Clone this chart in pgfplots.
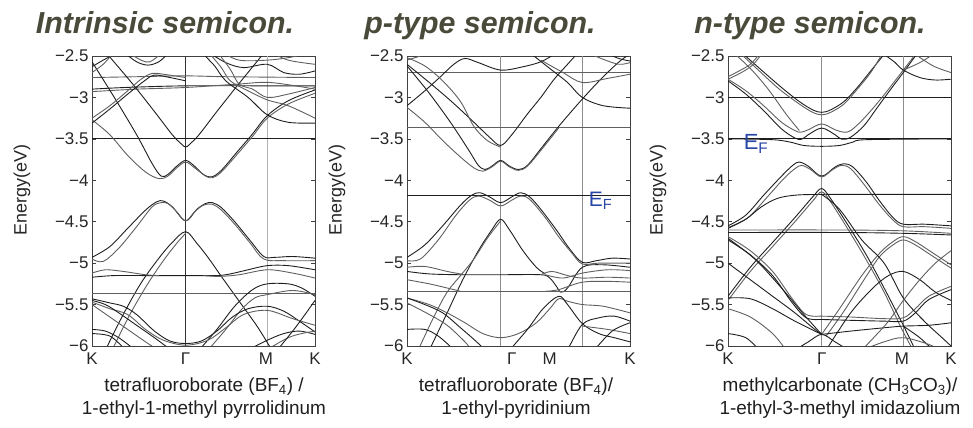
\documentclass[border=0pt]{standalone}
\usepackage{fontspec}
\setmainfont{Liberation Sans}
\usepackage{pgfplots}
\pgfplotsset{compat=1.18}
\definecolor{bd}{RGB}{30,30,30}
\definecolor{bg}{RGB}{95,95,95}
\definecolor{titlecol}{RGB}{74,74,58}
\definecolor{efblue}{RGB}{40,70,165}
\pgfplotsset{
 D/.style={no markers, smooth, tension=0.55, line width=0.9bp, draw=bd},
 G/.style={no markers, smooth, tension=0.55, line width=0.9bp, draw=bg},
 panel/.style={
  scale only axis, width=223bp, height=290bp, anchor=south west,
  xmin=0, xmax=100, ymin=-6, ymax=-2.5,
  axis line style={draw=black!75, line width=0.7bp},
  ytick={-6,-5.5,-5,-4.5,-4,-3.5,-3,-2.5},
  yticklabels={−6,−5.5,−5,−4.5,−4,−3.5,−3,−2.5},
  xticklabels={K,Γ,M,K},
  tick align=inside, major tick length=4bp, ytick pos=both, yticklabel pos=left,
  ytick style={draw=black!75, line width=0.7bp},
  xtick style={draw=none},
  tick label style={font=\fontsize{17}{17}\selectfont, text=black!85},
  xticklabel style={yshift=-3bp},
  ylabel={Energy(eV)},
  ylabel style={at={(axis description cs:-0.314,0.538)}, anchor=center, font=\fontsize{18}{18}\selectfont, text=black!85},
 }
}
\begin{document}
\begin{tikzpicture}
\useasboundingbox (0,0) rectangle (973bp,428bp);
% ---------------- Panel 1 ----------------
\begin{axis}[panel, at={(92bp,82bp)}, xtick={0,42,78,100}]
\addplot[line width=0.6bp, draw=black!80] coordinates {(42,-6)(42,-2.5)};
\addplot[line width=1.2bp, draw=black!30] coordinates {(78.6,-6)(78.6,-2.5)};
\addplot[D] coordinates {(0,-3.5)(100,-3.5)};
\addplot[G] coordinates {(0,-2.76)(20,-2.75)(42,-2.74)(60,-2.75)(100,-2.76)};
\addplot[D] coordinates {(0,-2.9)(15,-2.88)(42,-2.86)(78,-2.86)(100,-2.86)};
\addplot[G] coordinates {(0,-2.93)(20,-2.9)(42,-2.88)(65,-2.84)(80,-2.82)(100,-2.9)};
\addplot[D] coordinates {(0,-2.57)(10,-3.0)(20,-3.45)(27,-3.8)(31,-3.95)(34,-3.93)(38,-3.83)(42,-3.76)(46,-3.83)(50,-3.93)(53.6,-3.96)(58,-3.88)(65,-3.66)(72,-3.44)(78.6,-3.22)(88,-3.04)(100,-2.91)};
\addplot[G] coordinates {(0,-3.27)(8,-3.45)(16,-3.7)(24,-3.9)(30,-3.98)(34,-3.95)(38,-3.85)(42,-3.78)(46,-3.85)(51,-3.95)(54,-3.97)(58,-3.9)(65,-3.69)(72,-3.47)(78.6,-3.25)(88,-3.08)(100,-2.95)};
\addplot[D] coordinates {(6,-2.45)(18,-2.83)(28,-3.17)(36,-3.45)(40,-3.56)(42,-3.6)(44,-3.56)(48,-3.45)(56,-3.17)(66,-2.83)(76,-2.5)};
\addplot[G] coordinates {(0,-3.25)(8,-3.1)(16,-2.92)(22,-2.78)(27,-2.71)(32,-2.72)(42,-2.76)};
\addplot[D] coordinates {(0,-3.31)(8,-3.14)(16,-2.96)(24,-2.79)(28,-2.73)(35,-2.76)(42,-2.8)};
\addplot[D] coordinates {(0,-2.63)(5,-2.55)(10,-2.48)};
\addplot[G] coordinates {(0,-2.7)(5,-2.6)(9,-2.48)};
\addplot[D] coordinates {(15,-2.47)(20,-2.57)(25,-2.61)(30,-2.57)(34,-2.47)};
\addplot[G] coordinates {(17,-2.47)(22,-2.55)(26,-2.57)(31,-2.47)};
\addplot[D] coordinates {(52,-2.45)(60,-2.58)(68,-2.64)(78.6,-2.6)(86,-2.7)(93,-2.72)(100,-2.68)};
\addplot[G] coordinates {(58,-2.45)(66,-2.55)(78.6,-2.55)(88,-2.52)(95,-2.48)};
\addplot[G] coordinates {(80,-2.45)(88,-2.55)(100,-2.6)};
\addplot[D] coordinates {(50,-2.48)(55,-2.62)(60,-2.8)(70,-3.0)(78.6,-3.21)(88,-3.3)(100,-3.31)};
\addplot[G] coordinates {(53,-2.48)(58,-2.64)(62,-2.8)(70,-2.92)(78.6,-3.03)(88,-3.1)(100,-3.25)};
\addplot[G] coordinates {(57,-2.48)(62,-2.66)(66,-2.84)(72,-2.9)(78.6,-3.0)(88,-2.96)(100,-2.88)};
% valence
\addplot[D] coordinates {(0,-4.93)(8,-4.8)(16,-4.58)(24,-4.36)(29,-4.26)(32,-4.25)(36,-4.32)(42,-4.49)(47,-4.35)(51,-4.28)(54,-4.27)(58,-4.33)(64,-4.5)(71,-4.73)(77,-4.92)(82,-4.93)(90,-4.92)(100,-4.94)};
\addplot[G] coordinates {(0,-4.95)(5,-4.98)(12,-4.82)(20,-4.56)(27,-4.32)(31,-4.27)(34,-4.28)(38,-4.38)(42,-4.49)(46,-4.38)(50,-4.3)(54,-4.29)(58,-4.36)(64,-4.53)(71,-4.76)(77,-4.95)(86,-4.97)(100,-4.97)};
\addplot[D] coordinates {(6,-6.05)(14,-5.62)(22,-5.24)(30,-4.94)(36,-4.75)(42,-4.62)(47,-4.76)(52,-4.93)(58,-5.16)(66,-5.46)(74,-5.76)(80,-6.02)};
\addplot[G] coordinates {(9,-6.05)(17,-5.62)(25,-5.25)(32,-4.97)(38,-4.76)(42,-4.64)};
\addplot[D] coordinates {(0,-5.17)(10,-5.15)(25,-5.15)(42,-5.15)(56,-5.15)(62,-5.13)(70,-5.08)(78.6,-5.03)(88,-5.03)(100,-5.08)};
\addplot[G] coordinates {(0,-5.12)(6,-5.08)(14,-5.1)(24,-5.14)(30,-5.15)};
\addplot[G] coordinates {(50,-5.15)(57,-5.16)(66,-5.14)(78.6,-5.08)(90,-5.12)(100,-5.18)};
\addplot[G] coordinates {(0,-5.36)(100,-5.36)};
\addplot[D] coordinates {(48,-6.05)(56,-5.8)(64,-5.52)(72,-5.32)(78.6,-5.25)(88,-5.25)(94,-5.3)(100,-5.4)};
\addplot[G] coordinates {(52,-6.05)(60,-5.8)(67,-5.56)(73,-5.42)(78.6,-5.38)(90,-5.33)(100,-5.38)};
\addplot[D] coordinates {(0,-5.43)(8,-5.48)(14,-5.52)(20,-5.62)(28,-5.82)(35,-5.94)(42,-5.97)(49,-5.94)(56,-5.82)(63,-5.65)(70,-5.55)(78.6,-5.52)(86,-5.58)(93,-5.7)(100,-5.83)};
\addplot[G] coordinates {(0,-5.47)(8,-5.55)(16,-5.62)(24,-5.8)(32,-5.93)(42,-5.99)(52,-5.93)(60,-5.78)(68,-5.62)(78.6,-5.57)(90,-5.67)(100,-5.75)};
\addplot[D] coordinates {(0,-5.45)(6,-5.5)(12,-5.6)(20,-5.75)(28,-5.9)(34,-6.02)};
\addplot[G] coordinates {(0,-5.5)(8,-5.65)(16,-5.8)(24,-5.95)(28,-6.02)};
\addplot[D] coordinates {(0,-5.8)(6,-5.82)(12,-5.9)(18,-6.02)};
\addplot[D] coordinates {(0,-5.85)(8,-5.88)(14,-6.02)};
\addplot[D] coordinates {(72,-6.02)(78.6,-5.93)(86,-5.85)(93,-5.82)(100,-5.86)};
\addplot[G] coordinates {(80,-6.02)(88,-5.9)(94,-5.85)(100,-5.82)};
\addplot[D] coordinates {(84,-6.02)(92,-5.75)(100,-5.45)};
\end{axis}
% ---------------- Panel 2 ----------------
\begin{axis}[panel, at={(407bp,82bp)}, xtick={0,47,64,100}]
\addplot[line width=0.6bp, draw=black!45] coordinates {(42,-6)(42,-2.5)};
\addplot[line width=0.6bp, draw=black!45] coordinates {(78.6,-6)(78.6,-2.5)};
\addplot[G] coordinates {(0,-2.7)(100,-2.7)};
\addplot[G] coordinates {(0,-3.36)(100,-3.36)};
\addplot[D] coordinates {(0,-4.18)(100,-4.18)};
\addplot[D] coordinates {(0,-3.1)(8,-2.92)(15,-2.75)(21,-2.6)(26,-2.53)(32,-2.58)(42,-2.67)(52,-2.63)(60,-2.57)(66,-2.48)};
\addplot[D] coordinates {(0,-2.62)(10,-2.95)(20,-3.32)(28,-3.65)(32,-3.82)(35,-3.87)(38,-3.83)(42,-3.76)(46,-3.83)(50,-3.87)(54,-3.82)(60,-3.62)(68,-3.35)(78.6,-3.02)(88,-2.75)(96,-2.55)(100,-2.48)};
\addplot[G] coordinates {(0,-3.12)(8,-3.3)(16,-3.52)(24,-3.72)(30,-3.85)(34,-3.89)(38,-3.84)(42,-3.77)(46,-3.84)(50,-3.88)(54,-3.83)(60,-3.64)(68,-3.37)};
\addplot[D] coordinates {(0,-2.6)(10,-2.82)(20,-3.05)(30,-3.3)(37,-3.48)(42,-3.58)(47,-3.45)(54,-3.2)(60,-3.0)(66,-2.78)(72,-2.6)(76,-2.48)};
\addplot[G] coordinates {(0,-2.52)(8,-2.62)(16,-2.8)(24,-3.05)(30,-3.35)(36,-3.52)(42,-3.6)};
\addplot[D] coordinates {(56,-2.48)(64,-2.65)(72,-2.82)(78.6,-3.0)(88,-3.1)(100,-3.13)};
\addplot[G] coordinates {(60,-2.55)(70,-2.7)(78.6,-2.82)(90,-2.77)(100,-2.72)};
\addplot[G] coordinates {(80,-2.45)(88,-2.54)(95,-2.6)(100,-2.58)};
\addplot[D] coordinates {(88,-2.45)(95,-2.53)(100,-2.56)};
\addplot[G] coordinates {(0,-2.55)(6,-2.5)};
% valence
\addplot[D] coordinates {(0,-4.93)(8,-4.78)(16,-4.55)(24,-4.3)(29,-4.18)(32.6,-4.15)(37,-4.2)(42,-4.27)(47,-4.2)(51,-4.15)(55,-4.2)(60,-4.35)(67,-4.6)(73,-4.83)(78.6,-4.99)(85,-4.97)(92,-4.94)(100,-4.95)};
\addplot[G] coordinates {(0,-4.97)(6,-4.95)(14,-4.72)(22,-4.42)(28,-4.24)(32,-4.19)(37,-4.24)(42,-4.31)(47,-4.24)(51,-4.19)(55,-4.23)(62,-4.45)(68,-4.68)(74,-4.88)(78.6,-5.01)(86,-5.0)(100,-5.0)};
\addplot[D] coordinates {(10,-6.05)(18,-5.6)(25,-5.2)(32,-4.85)(38,-4.6)(42,-4.47)(46,-4.6)(52,-4.85)(58,-5.05)(62,-5.13)};
\addplot[G] coordinates {(5,-6.05)(12,-5.65)(18,-5.35)(24,-5.15)(30,-4.95)(36,-4.7)(42,-4.49)};
\addplot[D] coordinates {(0,-5.1)(10,-5.13)(24,-5.14)(42,-5.14)(60,-5.14)(64,-5.18)(67,-5.28)(69,-5.35)(72,-5.3)(78.6,-5.05)(88,-5.02)(100,-5.05)};
\addplot[G] coordinates {(60,-5.14)(65,-5.1)(72,-5.15)(78.6,-5.18)(90,-5.17)(100,-5.18)};
\addplot[G] coordinates {(62,-5.34)(68,-5.32)(78.6,-5.23)(90,-5.22)(100,-5.23)};
\addplot[G] coordinates {(62,-5.14)(70,-5.18)(78.6,-5.12)(90,-5.08)(100,-5.09)};
\addplot[G] coordinates {(0,-5.34)(100,-5.34)};
\addplot[G] coordinates {(0,-5.05)(8,-5.04)(18,-5.1)(26,-5.14)};
\addplot[G] coordinates {(0,-5.2)(10,-5.25)(18,-5.3)(24,-5.34)};
\addplot[G] coordinates {(0,-5.42)(10,-5.5)(18,-5.6)(26,-5.72)(34,-5.85)(42,-5.9)(50,-5.85)(58,-5.72)(64,-5.55)(68,-5.43)(72,-5.46)(78.6,-5.5)(88,-5.52)(100,-5.6)};
\addplot[D] coordinates {(46,-6.05)(54,-5.8)(61,-5.55)(68,-5.4)(72,-5.5)(78.6,-5.73)(86,-5.85)(93,-5.9)(100,-5.95)};
\addplot[D] coordinates {(0,-5.42)(8,-5.5)(16,-5.6)(24,-5.78)(30,-5.92)(34,-6.02)};
\addplot[G] coordinates {(0,-5.48)(10,-5.62)(18,-5.75)(26,-5.95)(28,-6.02)};
\addplot[D] coordinates {(0,-5.8)(8,-5.8)(14,-5.88)(20,-6.02)};
\addplot[D] coordinates {(72,-6.05)(78.6,-5.74)(86,-5.66)(93,-5.64)(100,-5.7)};
\addplot[G] coordinates {(78.6,-5.76)(90,-5.8)(100,-5.85)};
\addplot[D] coordinates {(84,-6.05)(92,-5.82)(100,-5.72)};
\node[anchor=west, text=efblue, font=\fontsize{21}{21}\selectfont, inner sep=0pt] at (axis cs:81.5,-4.25) {E\textsubscript{F}};
\end{axis}
% ---------------- Panel 3 ----------------
\begin{axis}[panel, at={(728bp,82bp)}, xtick={0,42,78,100}]
\addplot[line width=0.6bp, draw=black!45] coordinates {(42,-6)(42,-2.5)};
\addplot[line width=0.6bp, draw=black!45] coordinates {(78.6,-6)(78.6,-2.5)};
\addplot[D] coordinates {(0,-3.0)(100,-3.0)};
\addplot[D] coordinates {(0,-3.5)(100,-3.5)};
\addplot[D] coordinates {(0,-3.5)(20,-3.51)(28,-3.54)(34,-3.58)(42,-3.59)(50,-3.58)(56,-3.54)(62,-3.51)(100,-3.5)};
\addplot[G] coordinates {(0,-2.78)(8,-2.92)(16,-3.1)(24,-3.3)(30,-3.4)(32.6,-3.42)(36,-3.39)(42,-3.32)(48,-3.39)(52,-3.42)(55,-3.4)(60,-3.28)(66,-3.1)(72,-2.9)(78.6,-2.67)(84,-2.48)};
\addplot[D] coordinates {(0,-2.8)(8,-2.96)(16,-3.16)(24,-3.38)(30,-3.49)(33,-3.505)(36,-3.45)(42,-3.37)(48,-3.45)(51,-3.505)(55,-3.48)(61,-3.34)(67,-3.12)(73,-2.9)(78.6,-2.7)(84,-2.5)};
\addplot[D] coordinates {(7,-2.48)(15,-2.67)(24,-2.88)(32,-3.05)(38,-3.15)(42,-3.18)(46,-3.15)(52,-3.05)(58,-2.88)(64,-2.68)(70,-2.48)};
\addplot[G] coordinates {(6,-2.48)(14,-2.68)(23,-2.9)(32,-3.08)(38,-3.18)(42,-3.21)(46,-3.18)(52,-3.08)(58,-2.9)(64,-2.7)(69,-2.48)};
\addplot[G] coordinates {(0,-2.75)(5,-2.68)(10,-2.6)(14,-2.48)};
\addplot[G] coordinates {(0,-2.78)(6,-2.7)(11,-2.61)(15,-2.48)};
\addplot[G] coordinates {(2,-2.45)(10,-2.65)(18,-2.9)(26,-3.2)(32,-3.4)};
\addplot[D] coordinates {(70,-2.48)(75,-2.58)(78.6,-2.67)(86,-2.76)(93,-2.79)(100,-2.78)};
\addplot[G] coordinates {(78.6,-2.67)(86,-2.58)(92,-2.48)};
\addplot[G] coordinates {(84,-2.48)(92,-2.62)(100,-2.7)};
% valence
\addplot[D] coordinates {(0,-4.55)(8,-4.42)(16,-4.18)(24,-3.95)(29,-3.82)(32,-3.78)(36,-3.83)(42,-3.95)(48,-3.84)(52,-3.8)(56,-3.84)(62,-4.02)(68,-4.25)(74,-4.45)(78.6,-4.53)(88,-4.53)(100,-4.55)};
\addplot[G] coordinates {(0,-4.57)(9,-4.45)(17,-4.22)(25,-3.98)(30,-3.86)(33,-3.82)(37,-3.87)(42,-3.96)(47,-3.87)(51,-3.82)(55,-3.86)(61,-4.05)(68,-4.3)(74,-4.48)(78.6,-4.56)(88,-4.56)(100,-4.58)};
\addplot[D] coordinates {(0,-4.58)(8,-4.47)(15,-4.32)(22,-4.22)(30,-4.18)(42,-4.17)(60,-4.17)(78.6,-4.17)(100,-4.17)};
\addplot[D] coordinates {(0,-5.4)(10,-5.05)(20,-4.75)(30,-4.45)(38,-4.2)(42,-4.1)(46,-4.22)(54,-4.55)(62,-4.9)(70,-5.3)(78.6,-5.75)(84,-6.05)};
\addplot[G] coordinates {(0,-5.45)(10,-5.1)(20,-4.8)(30,-4.5)(38,-4.25)(42,-4.14)(46,-4.26)(54,-4.6)(62,-4.96)(70,-5.35)(78,-5.8)(83,-6.05)};
\addplot[G] coordinates {(0,-4.6)(50,-4.6)(78.6,-4.61)(100,-4.64)};
\addplot[D] coordinates {(0,-4.63)(50,-4.63)(78.6,-4.64)(100,-4.66)};
\addplot[G] coordinates {(42,-5.86)(50,-5.55)(60,-5.15)(68,-4.88)(74,-4.74)(78.6,-4.68)(84,-4.74)(92,-4.88)(100,-5.02)};
\addplot[G] coordinates {(44,-5.88)(52,-5.58)(61,-5.2)(68,-4.92)(74,-4.78)(78.6,-4.72)(84,-4.78)(92,-4.92)(100,-5.06)};
\addplot[G] coordinates {(0,-4.68)(10,-4.85)(20,-5.1)(28,-5.4)(34,-5.6)(38,-5.64)(42,-5.64)(55,-5.65)(70,-5.67)(78.6,-5.66)(84,-5.55)(90,-5.4)(100,-5.28)};
\addplot[D] coordinates {(0,-4.72)(10,-4.9)(20,-5.15)(28,-5.45)(34,-5.64)(38,-5.68)(42,-5.68)(55,-5.69)(70,-5.7)(78.6,-5.7)(84,-5.6)(90,-5.44)(100,-5.32)};
\addplot[D] coordinates {(0,-4.7)(12,-4.95)(24,-5.3)(34,-5.62)(42,-5.86)};
\addplot[D] coordinates {(0,-5.0)(10,-5.2)(20,-5.4)(30,-5.6)(38,-5.78)(42,-5.86)};
\addplot[D] coordinates {(0,-5.42)(10,-5.43)(20,-5.55)(30,-5.7)(42,-5.86)};
\addplot[D] coordinates {(42,-5.86)(55,-5.82)(70,-5.78)(78.6,-5.76)(90,-5.75)(100,-5.72)};
\addplot[D] coordinates {(30,-6.05)(36,-5.95)(42,-5.86)(48,-5.95)(54,-6.05)};
\addplot[D] coordinates {(44,-6.05)(55,-5.6)(65,-5.3)(72,-5.15)(78.6,-5.1)(86,-5.2)(93,-5.35)(100,-5.45)};
\addplot[D] coordinates {(42,-4.17)(50,-4.35)(60,-4.72)(70,-5.0)(78.6,-5.42)(88,-5.7)(96,-5.9)(100,-6.0)};
\addplot[G] coordinates {(60,-6.05)(66,-5.88)(72,-5.7)(78.6,-5.45)(86,-5.2)(93,-5.0)(100,-4.85)};
\addplot[D] coordinates {(78.6,-5.76)(86,-5.9)(92,-6.05)};
\addplot[G] coordinates {(60,-6.05)(70,-5.95)(78.6,-5.9)(90,-5.98)(95,-6.05)};
\addplot[D] coordinates {(0,-5.85)(8,-5.9)(14,-6.05)};
\addplot[G] coordinates {(0,-5.55)(10,-5.65)(20,-5.85)(26,-6.05)};
\node[anchor=west, text=efblue, font=\fontsize{22}{22}\selectfont, inner sep=0pt] at (axis cs:7,-3.56) {E\textsubscript{F}};
\end{axis}
% ---------------- Titles & captions ----------------
\node[anchor=base, text=titlecol, font=\fontsize{30.5}{30.5}\selectfont\bfseries\itshape] at (165bp,394bp) {Intrinsic semicon.};
\node[anchor=base, text=titlecol, font=\fontsize{30.5}{30.5}\selectfont\bfseries\itshape] at (480bp,394bp) {p-type semicon.};
\node[anchor=base, text=titlecol, font=\fontsize{30.5}{30.5}\selectfont\bfseries\itshape] at (810bp,394bp) {n-type semicon.};
\begin{scope}[every node/.style={anchor=base, font=\fontsize{19}{19}\selectfont, text=black!88}]
\node at (204bp,37bp) {tetrafluoroborate (BF\textsubscript{4}) /};
\node at (204bp,14bp) {1-ethyl-1-methyl pyrrolidinum};
\node at (516bp,37bp) {tetrafluoroborate (BF\textsubscript{4})/};
\node at (516bp,14bp) {1-ethyl-pyridinium};
\node at (840bp,37bp) {methylcarbonate (CH\textsubscript{3}CO\textsubscript{3})/};
\node at (840bp,14bp) {1-ethyl-3-methyl imidazolium};
\end{scope}
\end{tikzpicture}
\end{document}
